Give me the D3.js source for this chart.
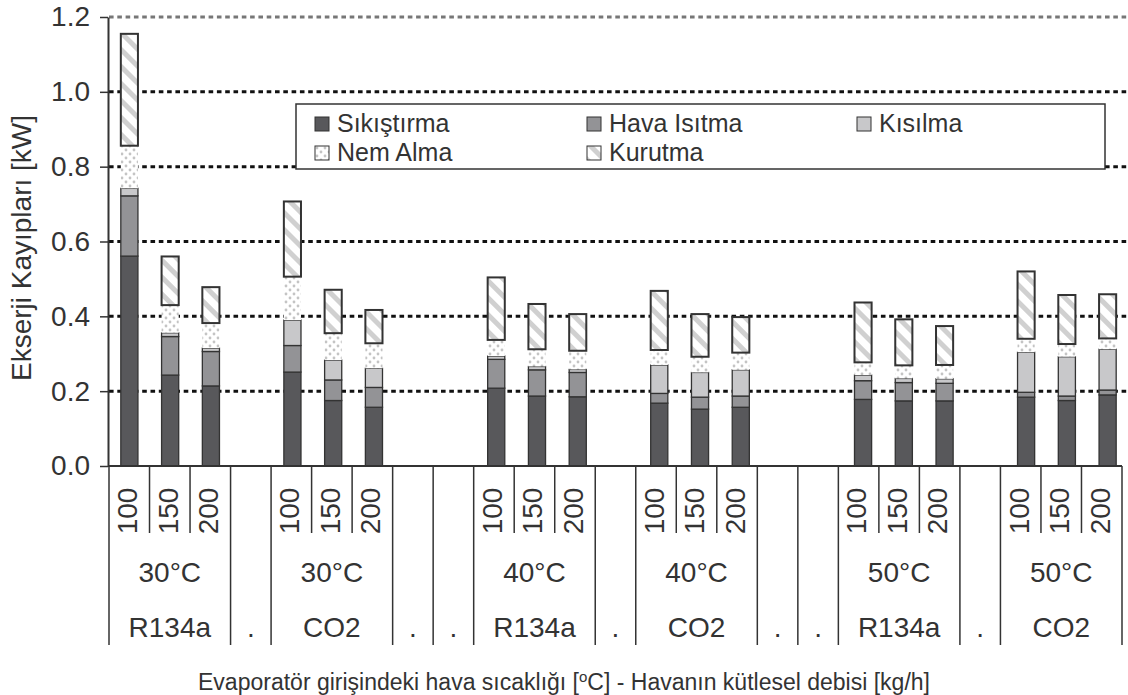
<!DOCTYPE html>
<html>
<head>
<meta charset="utf-8">
<script src="https://cdn.jsdelivr.net/npm/d3@7"></script>
<style>
  body { margin: 0; background: #fff; }
  text { font-family: "Liberation Sans", Arial, sans-serif; fill: #333; }
</style>
</head>
<body>
<svg id="chart" width="1128" height="695"></svg>
<script>
// category groups on the x axis ("." = empty spacer slot)
const groupRefrigerant = ["R134a", ".", "CO2", ".", ".", "R134a", ".", "CO2", ".", ".", "R134a", ".", "CO2"];
const groupTemperature = ["30°C", "", "30°C", "", "", "40°C", "", "40°C", "", "", "50°C", "", "50°C"];
const flowRates = ["100", "150", "200"];
const seriesNames = ["Sıkıştırma", "Hava Isıtma", "Kısılma", "Nem Alma", "Kurutma"];
const yTicks = [0, 0.2, 0.4, 0.6, 0.8, 1.0, 1.2];

// exergy losses [kW], one value per bar (18 bars, left to right)
const sikistirma = [0.561, 0.243, 0.214, 0.251, 0.175, 0.157, 0.208, 0.187, 0.185, 0.168, 0.152, 0.157, 0.178, 0.174, 0.174, 0.184, 0.175, 0.190];
const havaIsitma = [0.161, 0.103, 0.092, 0.071, 0.055, 0.053, 0.077, 0.070, 0.065, 0.026, 0.032, 0.030, 0.050, 0.049, 0.047, 0.013, 0.012, 0.013];
const kisilma    = [0.020, 0.010, 0.009, 0.068, 0.053, 0.051, 0.009, 0.009, 0.008, 0.076, 0.066, 0.070, 0.015, 0.011, 0.012, 0.107, 0.105, 0.109];
const nemAlma    = [0.114, 0.074, 0.067, 0.116, 0.072, 0.067, 0.043, 0.046, 0.050, 0.040, 0.042, 0.046, 0.034, 0.035, 0.037, 0.036, 0.034, 0.029];
const kurutma    = [0.299, 0.130, 0.096, 0.201, 0.116, 0.089, 0.167, 0.121, 0.098, 0.158, 0.114, 0.095, 0.160, 0.123, 0.104, 0.180, 0.131, 0.118];

const seriesValues = [sikistirma, havaIsitma, kisilma, nemAlma, kurutma];

var svg = d3.select("#chart");
var defs = svg.append("defs");

// dotted fill for Nem Alma
var dots = defs.append("pattern").attr("id", "dots")
  .attr("patternUnits", "userSpaceOnUse").attr("width", 8).attr("height", 8);
dots.append("rect").attr("width", 8).attr("height", 8).attr("fill", "#fff");
dots.append("circle").attr("cx", 2).attr("cy", 2).attr("r", 1.4).attr("fill", "#c4c4c4");
dots.append("circle").attr("cx", 6).attr("cy", 6).attr("r", 1.4).attr("fill", "#c4c4c4");

// diagonal stripes for Kurutma
var stripes = defs.append("pattern").attr("id", "stripes")
  .attr("patternUnits", "userSpaceOnUse").attr("width", 12).attr("height", 12)
  .attr("patternTransform", "rotate(-45)");
stripes.append("rect").attr("width", 12).attr("height", 12).attr("fill", "#fff");
stripes.append("rect").attr("width", 5).attr("height", 12).attr("fill", "#d0d0d0");

var fills = {
  "Sıkıştırma": "#58585b",
  "Hava Isıtma": "#939396",
  "Kısılma": "#c8c8ca",
  "Nem Alma": "url(#dots)",
  "Kurutma": "url(#stripes)"
};
var strokes = {
  "Sıkıştırma": "#333",
  "Hava Isıtma": "#333",
  "Kısılma": "#333",
  "Nem Alma": "none",
  "Kurutma": "#333"
};

// build slots and rows
var slots = [];
var rows = [];
var barIndex = 0;
groupRefrigerant.forEach(function (r, g) {
  if (r == ".") {
    slots.push({ id: "g" + g, group: g, flow: null });
  } else {
    flowRates.forEach(function (f) {
      var s = { id: "g" + g + "-" + f, group: g, flow: f };
      slots.push(s);
      var row = { id: s.id };
      seriesNames.forEach(function (name, k) {
        row[name] = seriesValues[k][barIndex];
      });
      rows.push(row);
      barIndex++;
    });
  }
});

var slotIds = slots.map(function (d) { return d.id; });
var xBar = d3.scaleBand().domain(slotIds).range([109, 1128]);
var xCat = d3.scaleBand().domain(slotIds).range([109, 1122]);
var y = d3.scaleLinear().domain([0, 1.2]).range([466, 17]);

// gridlines
svg.append("g").selectAll("line")
  .data(yTicks.filter(function (d) { return d > 0; }))
  .enter()
  .append("line")
  .attr("x1", 109).attr("x2", 1128)
  .attr("y1", function (d) { return y(d); })
  .attr("y2", function (d) { return y(d); })
  .attr("stroke", function (d) { return d == 1.2 ? "#777" : "#111"; })
  .attr("stroke-width", 3)
  .attr("stroke-dasharray", "4.6,3.7");

// stacked bars
var stacked = d3.stack().keys(seriesNames)(rows);
var barW = xBar.bandwidth() * 0.42;

svg.append("g").selectAll("g")
  .data(stacked)
  .enter()
  .append("g")
  .each(function (layer) {
    d3.select(this).selectAll("rect")
      .data(layer)
      .enter()
      .append("rect")
      .attr("x", function (d) { return xBar(d.data.id) + (xBar.bandwidth() - barW) / 2; })
      .attr("width", barW)
      .attr("y", function (d) { return y(d[1]); })
      .attr("height", function (d) { return y(d[0]) - y(d[1]); })
      .attr("fill", fills[layer.key])
      .attr("stroke", strokes[layer.key])
      .attr("stroke-width", layer.key == "Kurutma" ? 2 : 1.3);
  });

// y axis
var yAxis = svg.append("g")
  .attr("transform", "translate(108,0)")
  .call(d3.axisLeft(y).tickValues(yTicks).tickFormat(d3.format(".1f")).tickSize(8).tickSizeOuter(0).tickPadding(10));
yAxis.select(".domain").attr("stroke", "#333").attr("stroke-width", 2);
yAxis.selectAll(".tick line").attr("stroke", "#333").attr("stroke-width", 1.5);
yAxis.selectAll(".tick text")
  .style("font-size", "28px")
  .style("font-family", "'Liberation Sans', Arial, sans-serif")
  .attr("fill", "#333");

svg.append("text")
  .attr("transform", "translate(31,248) rotate(-90)")
  .attr("text-anchor", "middle")
  .style("font-size", "28px")
  .text("Ekserji Kayıpları [kW]");

// x axis: multi-level category labels
var xAxis = svg.append("g");
xAxis.append("line")
  .attr("x1", 108).attr("x2", 1122).attr("y1", 466).attr("y2", 466)
  .attr("stroke", "#333").attr("stroke-width", 2);

var groups = groupRefrigerant.map(function (r, g) {
  var mine = slots.filter(function (s) { return s.group == g; });
  var x0 = xCat(mine[0].id);
  var x1 = xCat(mine[mine.length - 1].id) + xCat.bandwidth();
  return { refrigerant: r, temperature: groupTemperature[g], x0: x0, x1: x1 };
});

var bounds = groups.map(function (d) { return d.x0; }).concat([groups[groups.length - 1].x1]);
xAxis.selectAll(".gsep")
  .data(bounds)
  .enter()
  .append("line")
  .attr("x1", function (d) { return d; }).attr("x2", function (d) { return d; })
  .attr("y1", 466).attr("y2", 645)
  .attr("stroke", "#333").attr("stroke-width", 1.5);

var flowSlots = slots.filter(function (s) { return s.flow != null; });
xAxis.selectAll(".fsep")
  .data(flowSlots.filter(function (s) { return s.flow != flowRates[0]; }))
  .enter()
  .append("line")
  .attr("x1", function (d) { return xCat(d.id); }).attr("x2", function (d) { return xCat(d.id); })
  .attr("y1", 466).attr("y2", 533)
  .attr("stroke", "#333").attr("stroke-width", 1.5);

xAxis.selectAll(".flab")
  .data(flowSlots)
  .enter()
  .append("text")
  .attr("transform", function (d) {
    return "translate(" + (xCat(d.id) + xCat.bandwidth() / 2 - 2) + ",511) rotate(-90)";
  })
  .attr("text-anchor", "middle")
  .attr("dy", "0.35em")
  .style("font-size", "28px")
  .text(function (d) { return d.flow; });

xAxis.selectAll(".tlab")
  .data(groups)
  .enter()
  .append("text")
  .attr("x", function (d) { return (d.x0 + d.x1) / 2; })
  .attr("y", 582)
  .attr("text-anchor", "middle")
  .style("font-size", "28px")
  .text(function (d) { return d.temperature; });

xAxis.selectAll(".rlab")
  .data(groups)
  .enter()
  .append("text")
  .attr("x", function (d) { return (d.x0 + d.x1) / 2; })
  .attr("y", 637)
  .attr("text-anchor", "middle")
  .style("font-size", "28px")
  .text(function (d) { return d.refrigerant; });

var title = svg.append("text")
  .attr("x", 564).attr("y", 690)
  .attr("text-anchor", "middle")
  .style("font-size", "23px");
title.append("tspan").text("Evaporatör girişindeki hava sıcaklığı [");
title.append("tspan").attr("dy", -8).style("font-size", "15px").text("o");
title.append("tspan").attr("dy", 8).text("C] - Havanın kütlesel debisi [kg/h]");

// legend
var legend = svg.append("g");
legend.append("rect")
  .attr("x", 296).attr("y", 104).attr("width", 809).attr("height", 65)
  .attr("fill", "#fff").attr("stroke", "#333").attr("stroke-width", 1.5);

var colX = [315, 587, 857];
var rowY = [117, 146];
var items = legend.selectAll(".item")
  .data(seriesNames)
  .enter()
  .append("g")
  .attr("transform", function (d, i) {
    return "translate(" + colX[i % 3] + "," + rowY[Math.floor(i / 3)] + ")";
  });
items.append("rect")
  .attr("width", 14).attr("height", 14)
  .attr("fill", function (d) { return fills[d]; })
  .attr("stroke", "#333").attr("stroke-width", 1);
items.append("text")
  .attr("x", 22).attr("y", 15)
  .style("font-size", "25px")
  .text(function (d) { return d; });
</script>
</body>
</html>
